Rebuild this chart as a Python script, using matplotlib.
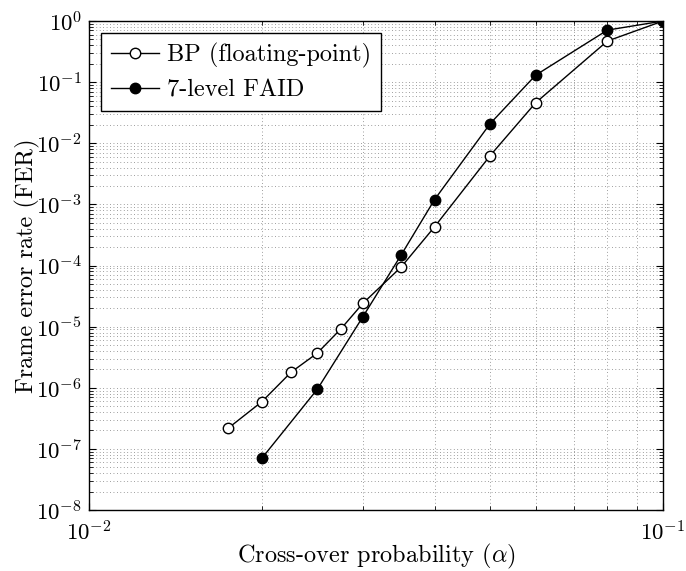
import numpy as np
import matplotlib
matplotlib.use("Agg")
import matplotlib.pyplot as plt
from matplotlib.ticker import LogLocator, NullFormatter

# data (cross-over prob. vs FER)
alpha_bp = [0.0175, 0.02, 0.0225, 0.025, 0.0275, 0.03, 0.035, 0.04, 0.05, 0.06, 0.08, 0.1]
fer_bp = [2.2e-7, 5.9e-7, 1.8e-6, 3.7e-6, 9.3e-6, 2.4e-5, 9.5e-5, 4.3e-4, 6.3e-3, 4.6e-2, 0.47, 1.0]

alpha_faid = [0.02, 0.025, 0.03, 0.035, 0.04, 0.05, 0.06, 0.08, 0.1]
fer_faid = [7.0e-8, 9.5e-7, 1.45e-5, 1.5e-4, 1.2e-3, 2.1e-2, 0.13, 0.71, 1.0]

labels = ['BP (floating-point)', '7-level FAID']

plt.rcParams['font.family'] = 'serif'
plt.rcParams['font.serif'] = ['cmr10']
plt.rcParams['mathtext.fontset'] = 'cm'
plt.rcParams['axes.formatter.use_mathtext'] = True
plt.rcParams['axes.unicode_minus'] = False

fig = plt.figure(figsize=(6.86, 5.71), dpi=100)
ax = fig.add_axes([0.1297, 0.1068, 0.8368, 0.8564])

ax.plot(alpha_bp, fer_bp, '-o', color='k', lw=1.0, ms=7.5,
        mfc='white', mec='k', mew=1.0, label=labels[0])
ax.plot(alpha_faid, fer_faid, '-o', color='k', lw=1.0, ms=7.5,
        mfc='k', mec='k', mew=1.0, label=labels[1])

ax.set_xscale('log')
ax.set_yscale('log')
ax.set_xlim(1e-2, 1e-1)
ax.set_ylim(1e-8, 1e0)

ax.yaxis.set_major_locator(LogLocator(base=10, numticks=20))
ax.yaxis.set_minor_locator(LogLocator(base=10, subs=np.arange(2, 10), numticks=20))
ax.yaxis.set_minor_formatter(NullFormatter())
ax.xaxis.set_minor_formatter(NullFormatter())

ax.grid(True, which='both', linestyle=(0, (1, 3.5)), linewidth=0.55, color='0.4')
ax.tick_params(which='both', direction='in', top=True, right=True, labelsize=16.5)
ax.tick_params(which='major', length=5, width=0.8)
ax.tick_params(which='minor', length=3, width=0.6)
ax.tick_params(axis='x', pad=7)
ax.tick_params(axis='y', pad=5)
for s in ax.spines.values():
    s.set_linewidth(1.0)

ax.set_xlabel(r'Cross-over probability ($\alpha$)', fontsize=17.5, labelpad=-2)
ax.set_ylabel('Frame error rate (FER)', fontsize=17.5, labelpad=-3)

leg = ax.legend(loc='upper left', fontsize=17.5, fancybox=False, framealpha=1,
                edgecolor='k', handlelength=2.0, borderaxespad=0.5,
                handletextpad=0.3, labelspacing=0.45, borderpad=0.4)
leg.get_frame().set_linewidth(1.0)

fig.savefig('out.png', dpi=100)
